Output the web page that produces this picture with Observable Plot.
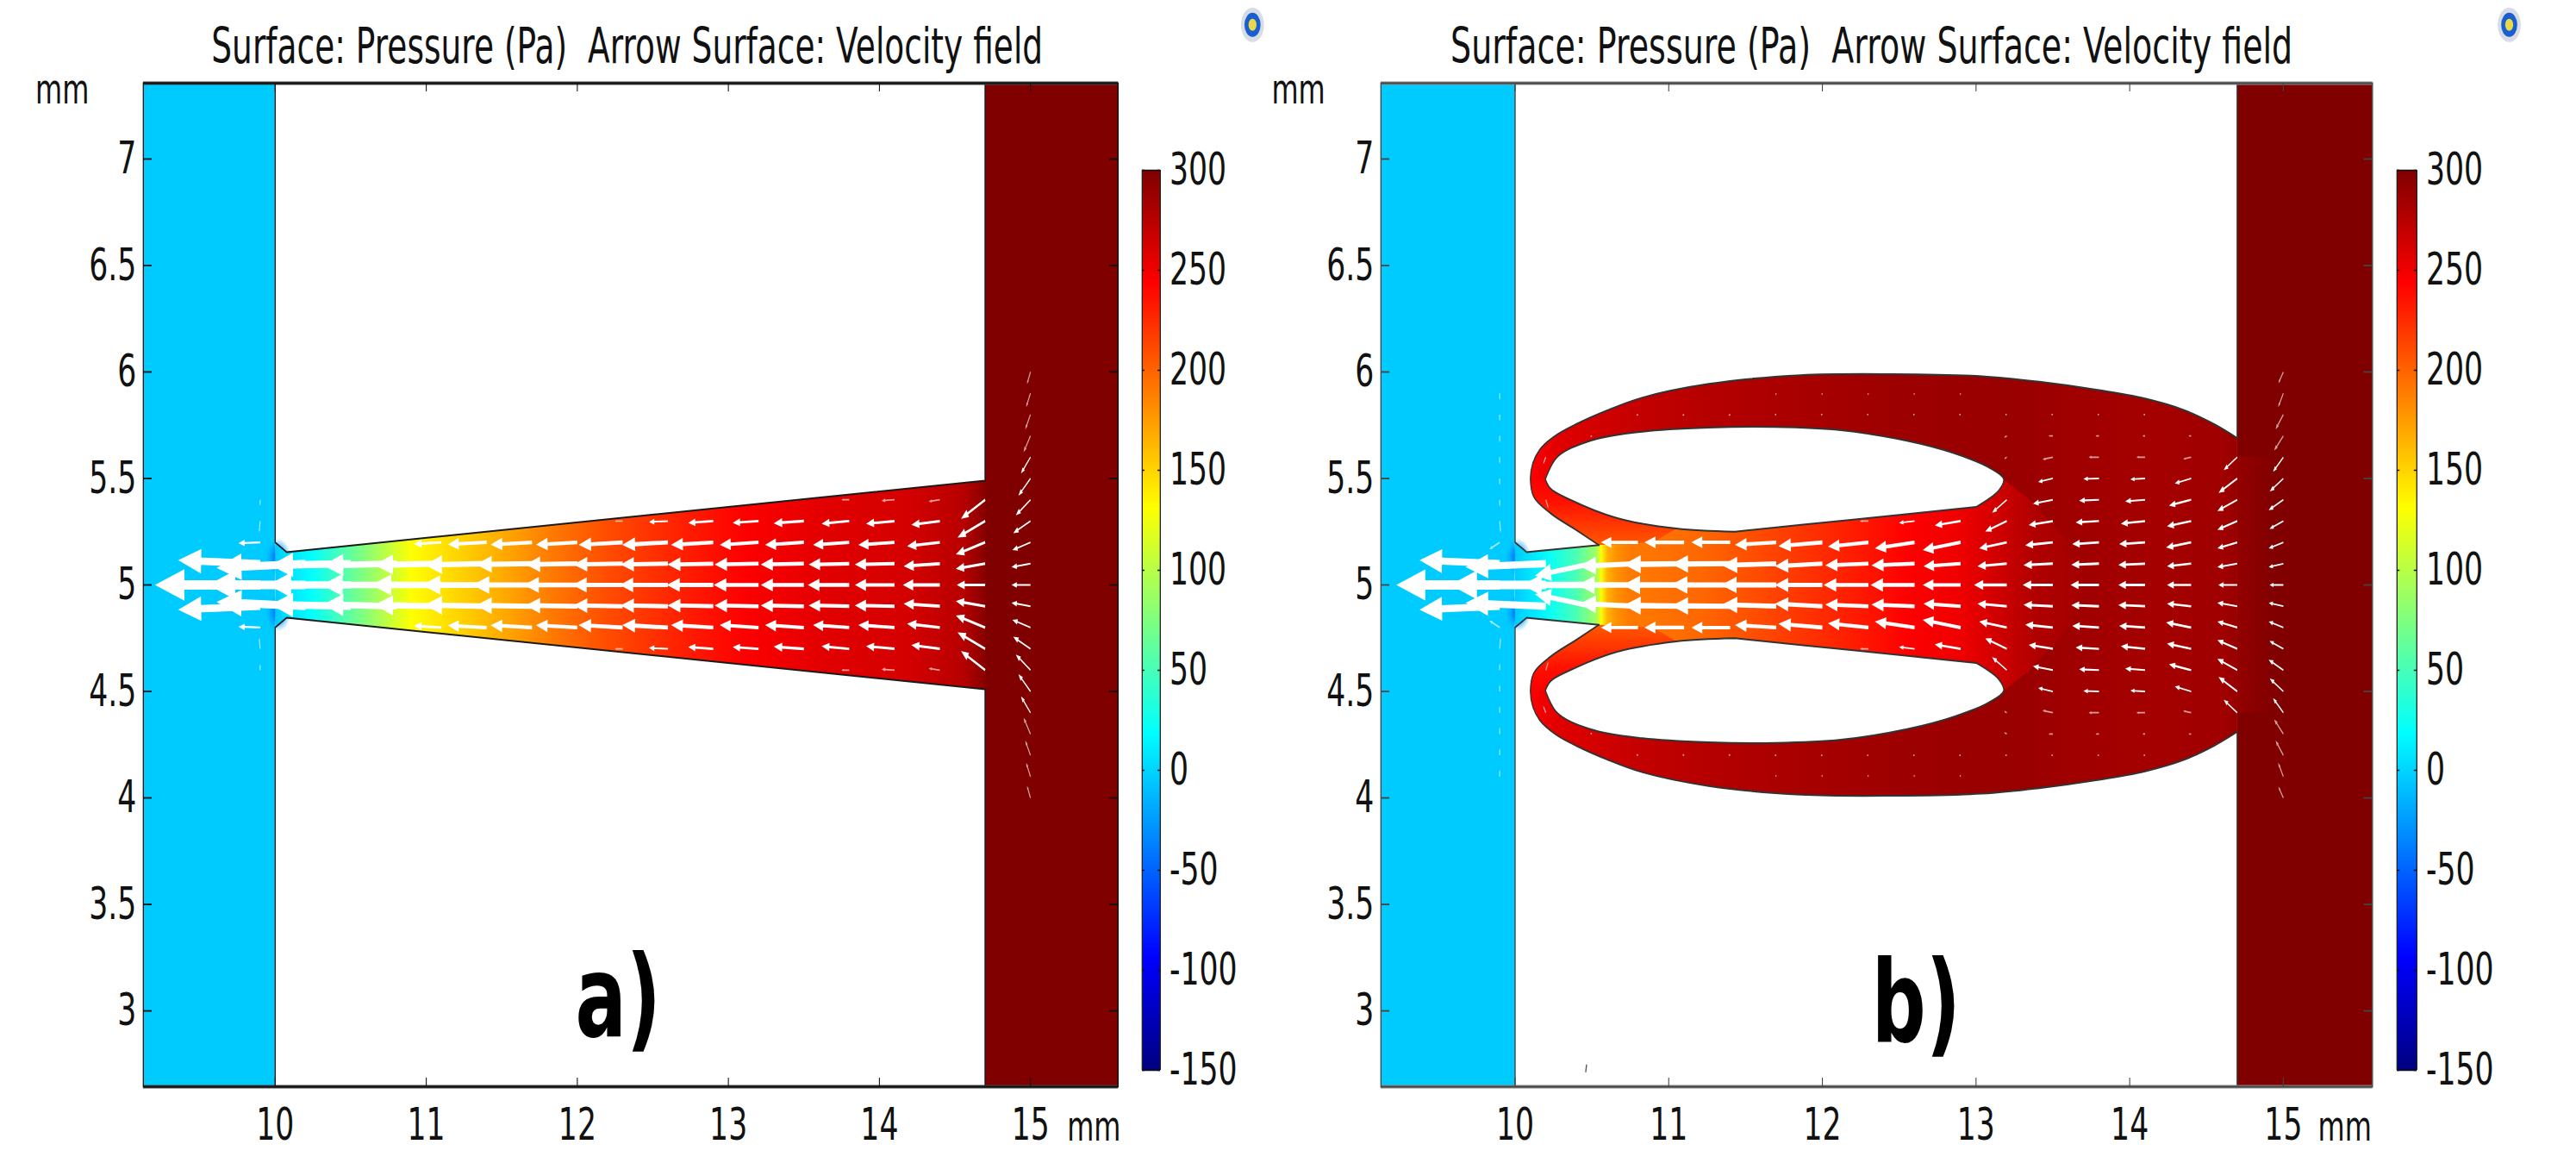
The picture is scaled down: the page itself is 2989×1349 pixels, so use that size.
<!DOCTYPE html>
<html>
<head>
<meta charset="utf-8">
<style>
html,body{margin:0;padding:0;background:#fff;width:2989px;height:1349px;overflow:hidden}
#stage{position:relative;width:2989px;height:1349px}
</style>
<script src="https://cdn.jsdelivr.net/npm/d3@7"></script>
<script src="https://cdn.jsdelivr.net/npm/@observablehq/plot@0.6"></script>
</head>
<body>
<div id="stage"></div>
<script>
// ---------- text and ticks ----------
const titleText = "Surface: Pressure (Pa)  Arrow Surface: Velocity field";
const xTicks = [10, 11, 12, 13, 14, 15];
const yTicks = [3, 3.5, 4, 4.5, 5, 5.5, 6, 6.5, 7];
const barTicks = [-150, -100, -50, 0, 50, 100, 150, 200, 250, 300];
const xDomain = [9.127, 15.58];
const yDomain = [2.644, 7.356];

// ---------- jet colour map of the pressure bar (Pa) ----------
const jetPressure = [-150, -93.75, 18.75, 131.25, 243.75, 300];
const jetColors = ["#000080", "#0000ff", "#00ffff", "#ffff00", "#ff0000", "#800000"];
const reservoirPressure = -4;   // left block
const outletPressure = 300;     // right block

// ---------- pressure along x (x mm, p Pa) ----------
const channelStopsA = [[10,-5],[10.08,5],[10.24,19],[10.58,75],[10.9,131],[11.42,163],[11.83,190],[12.19,210],[12.74,232],[13.1,244],[13.65,257],[14.19,263],[14.55,275],[14.7,296]];
const channelStopsB = [[10,-5],[10.08,5],[10.16,12],[10.24,25],[10.39,50],[10.53,90],[10.56,130],[10.6,165],[10.66,180],[10.75,190],[11.2,198],[11.69,214],[12.33,236],[12.55,244],[12.9,251],[13.2,268],[13.4,279],[13.8,286]];
const lobeStopsB = [[10.1,245],[10.3,258],[10.8,270],[11.3,277],[11.7,281],[12.5,287],[13.2,289],[13.8,285],[14.2,284],[14.6,286],[14.7,290]];
const hornStopsB = [[5.19,205],[5.3,222],[5.4,238],[5.5,246],[5.6,250]];
const outletFadeB = [[14.7,291],[14.95,300]];

// ---------- geometry (x mm, y mm), upper half; lower half is its mirror about y = 5 ----------
const taperUpperA = [[10,5.2],[10.075,5.154],[14.7,5.49]];
const throatUpperB = [[10,5.2],[10.075,5.154],[10.546,5.187]];
const hornOuterB = [[10.546,5.187],[10.40,5.257],[10.23,5.337],[10.12,5.416],[10.10,5.50]];
const outerTopB = [[10.115,5.57],[10.16,5.635],[10.26,5.70],[10.40,5.756],[10.6,5.82],[10.83,5.88],[11.26,5.944],[11.86,5.985],[12.46,5.99],[13.04,5.98],[13.4,5.955],[13.79,5.916],[14.1,5.875],[14.35,5.822],[14.55,5.755],[14.7,5.69]];
const holeTopB = [[10.197,5.496],[10.27,5.597],[10.49,5.677],[10.83,5.72],[11.26,5.739],[11.69,5.742],[12.12,5.727],[12.55,5.677],[12.85,5.62],[13.08,5.553],[13.18,5.496]];
const holeBottomB = [[13.15,5.445],[13.0,5.366],[13.0,5.366],[12.2,5.307],[11.43,5.25],[11.43,5.25],[11.05,5.265],[10.66,5.315],[10.36,5.40],[10.23,5.453],[10.197,5.496]];
const channelUpperB = [[10.55,5.19],[10.66,5.315],[11.05,5.265],[11.43,5.25],[13.0,5.366],[13.15,5.445],[13.19,5.49],[13.35,5.40],[13.6,5.2],[13.7,5.0]];
const hornFillB = [[10.10,5.50],[10.12,5.416],[10.23,5.337],[10.40,5.257],[10.546,5.187],[10.546,5.187],[10.9,5.20],[10.9,5.20],[11.05,5.265],[11.05,5.265],[10.66,5.315],[10.36,5.40],[10.23,5.453],[10.197,5.496]];
const cornerSpot = [[10.02,5.13],[10.02,4.87]];
const speckB = [[10.465,2.745],[10.46,2.715]];

// ---------- velocity field: columns at x, offsets from y = 5 (0, .1, .2 ...) ----------
const arrowX = [15,14.7,14.4,14.1,13.8,13.5,13.2,12.9,12.6,12.3,12,11.7,11.4,11.1,10.8,10.5,10.2,9.9];
const uA = [
 [22,22,21,20,17,14,11,8,6,5,4],
 [33,34,34,32,28],
 [43,42,38,33,13],
 [46,46,42,33,15],
 [48,47,42,32,9],
 [50,50,45,35],
 [52,51,45,30],
 [54,53,49,29],
 [56,55,53,22],
 [58,57,51,9],
 [62,60,48],
 [69,65,48],
 [75,72,45],
 [81,78,32],
 [86,85],
 [96,93],
 [113,103],
 [122,95,25,1,0]
];
const vA = [
 [0,4,9,14,18,20,19,19,17,16,14],
 [0,6,14,19,22],
 [0,3,4.3,4.3,2],
 [0,1,3,3,1],
 [0,1,3,3,0],
 [0,1,3,2.5],
 [0,1,3,2],
 [0,1,3,2],
 [0,1,3,1],
 [0,1,3,0],
 [0,1,2.7],
 [0,1,2.7],
 [0,1.5,2.3],
 [0,1.5,2],
 [0,2],
 [0,2],
 [0,5],
 [0,-4,1,13,7]
];
const uB = [
 [16,17,17,16,17,15.7,12,10.7,9,6,5.7],
 [22,23,23,23,23,21.7,15.7],
 [28,28,29,28,25.7,19,9.3,3],
 [31,31,30,28,23,17,10,3,2],
 [33,32,31,27,23,18,12,4,2],
 [35,34,32,28,23,17,12,5,2],
 [38,34,32,25,17,0,3,3,2],
 [44,43,44,30,0,0,0,0,2,1],
 [51,50,46,18,0,0,0,0,2,1],
 [52,50,47,10,0,0,0,0,2,1],
 [55,55,51,0,0,0,0,0,2,1],
 [64,63,48,0,0,0,0,0,2,1],
 [69,68,45,0,0,0,0,0,2],
 [71,70,46,0,0,0,0,0,2],
 [70,68,43,3,0,0,0,0,2],
 [81,66,0,0,0,0,0,2],
 [111,93,0,0,-3,0,3],
 [120,93,12,-1,0,0,0,0,0,0]
];
const vB = [
 [0,4,7,9,12,15,17,17,17,16,13],
 [0,4,7,10,13,16.7,15],
 [0,3,6,6,6.7,5.7,2.3,0],
 [0,1.5,2,3,1.7,1,0,0,0],
 [0,1.3,2,1.5,1,0.5,0,0,0],
 [0,1.7,3.3,4.7,4.5,4,2.7,0,0],
 [0,3,7,12,15,0,2,2,0],
 [0,3,9,5,0,0,0,0,0,2],
 [0,2,7,2,0,0,0,0,0,2],
 [0,2,5,0,0,0,0,0,0,2],
 [0,3,4.3,0,0,0,0,0,0,2],
 [0,2,3,0,0,0,0,0,0,2],
 [0,0.5,0,0,0,0,0,0,1],
 [0,1,0,0,0,0,0,0,1],
 [0,3,0,-3,0,0,0,0,1],
 [0,14,0,0,0,0,0,1],
 [0,4,0,0,10,0,8],
 [0,-4,8,13,8,8,8,8,8,8]
];
const iconMarks = [{x:16.47, y:7.63, c:"#d8dce4", r:20},{x:16.47, y:7.63, c:"#1a5fd0", r:14},{x:16.47, y:7.63, c:"#e8d84a", r:7}];

// ---------- helpers ----------
const squeeze = 2 / 3;                 // the reference is drawn narrow: text and shapes are 2/3 as wide as tall
const jet = d3.scaleLinear(jetPressure, jetColors).interpolate(d3.interpolateRgb);
const colorOptions = {type: "linear", domain: jetPressure, range: jetColors, interpolate: "rgb"};
const fontFamily = "'DejaVu Sans'";
const textFill = "#111";
const smooth = "catmull-rom";
const mirror = pts => pts.map(([x, y]) => [x, 10 - y]);
const closeUp = (upper) => upper.concat(mirror(upper).reverse());
const px = d => d[0], py = d => d[1];

function gradient(id, stops, vertical) {
  return (index, {x, y}) => {
    const s = vertical ? y : x;
    const a = s(stops[0][0]), b = s(stops[stops.length - 1][0]);
    const defs = d3.create("svg:defs");
    const g = defs.append("linearGradient").attr("id", id).attr("gradientUnits", "userSpaceOnUse")
      .attr("x1", vertical ? 0 : a).attr("x2", vertical ? 0 : b)
      .attr("y1", vertical ? a : 0).attr("y2", vertical ? b : 0);
    for (const [v, p] of stops) g.append("stop").attr("offset", (s(v) - a) / (b - a)).attr("stop-color", jet(p));
    return defs.node();
  };
}
function spotGradient(id) {
  return () => {
    const defs = d3.create("svg:defs");
    const g = defs.append("radialGradient").attr("id", id);
    g.append("stop").attr("offset", 0).attr("stop-color", "#0060f0").attr("stop-opacity", 1);
    g.append("stop").attr("offset", 0.45).attr("stop-color", "#0080ff").attr("stop-opacity", 0.75);
    g.append("stop").attr("offset", 1).attr("stop-color", "#00aaff").attr("stop-opacity", 0);
    return defs.node();
  };
}
const arrowShape = {
  draw(ctx, l) {
    const w = Math.max(0.9, 0.03 * l), hw = 0.1 * l, hl = 0.28 * l;
    ctx.moveTo(-w, 0);
    ctx.lineTo(-w, -l + hl);
    ctx.lineTo(-hw, -l + hl);
    ctx.lineTo(0, -l);
    ctx.lineTo(hw, -l + hl);
    ctx.lineTo(w, -l + hl);
    ctx.lineTo(w, 0);
    ctx.closePath();
  },
  r: 3.5
};
function arrowsFrom(us, vs) {
  const rows = [];
  arrowX.forEach((x, i) => us[i].forEach((u, j) => {
    const v = vs[i][j] || 0;
    if (!u && !v) return;
    const off = j / 10;
    rows.push({x, y: 5 + off, u, v});
    if (j > 0) rows.push({x, y: 5 - off, u, v: -v});
  }));
  return rows;
}
function vectorMark(rows) {
  const lenOf = d => Math.hypot(d.u / squeeze, d.v);
  const rotOf = d => Math.atan2(-d.u / squeeze, -d.v) * 180 / Math.PI;
  const faintOf = d => (lenOf(d) < 24 ? 0.62 : 1);
  return Plot.vector(rows, {x: "x", y: "y", length: lenOf, rotate: rotOf, anchor: "start",
    shape: arrowShape, fill: "white", stroke: "none", fillOpacity: faintOf});
}
function stretch(svg, left, displayWidth) {
  svg.setAttribute("preserveAspectRatio", "none");
  svg.setAttribute("width", displayWidth);
  svg.style.cssText += `;position:absolute;left:${left}px;top:0;width:${displayWidth}px;height:1349px;max-width:none;font-family:${fontFamily};overflow:hidden;background:transparent`;
  document.getElementById("stage").appendChild(svg);
}
function axesAndText(opts) {
  const tickMm = 10 / 247, tickX = 10 / 175;
  return [
    Plot.ruleY([yDomain[0], yDomain[1]], {x1: xDomain[0], x2: xDomain[1], stroke: opts.band, strokeWidth: 4}),
    Plot.frame({stroke: opts.frame, strokeWidth: 2}),
    Plot.ruleX(xTicks, {x: d => d, y1: yDomain[0], y2: yDomain[0] + tickMm, stroke: opts.frame, strokeWidth: 1.6}),
    Plot.ruleX(xTicks, {x: d => d, y1: yDomain[1], y2: yDomain[1] - tickMm, stroke: opts.frame, strokeWidth: 1.6}),
    Plot.ruleY(yTicks, {y: d => d, x1: xDomain[0], x2: xDomain[0] + tickX, stroke: opts.frame, strokeWidth: 1.8}),
    Plot.ruleY(yTicks, {y: d => d, x1: xDomain[1], x2: xDomain[1] - tickX, stroke: opts.frame, strokeWidth: 1.8}),
    Plot.axisX({ticks: xTicks, tickSize: 0, tickPadding: 25, fontSize: 52, label: null, tickFormat: String, fill: textFill, anchor: "bottom"}),
    Plot.axisY({ticks: yTicks, tickSize: 0, tickPadding: 12, fontSize: 52, label: null, tickFormat: String, fill: textFill, anchor: "left"}),
    Plot.text([titleText], {x: opts.titleX, y: 7.453, text: d => d, fontSize: opts.titleSize, lineAnchor: "bottom", fill: textFill, textAnchor: "middle"}),
    Plot.text(["mm"], {x: 8.59, y: 7.26, text: d => d, fontSize: 48, lineAnchor: "bottom", fill: textFill}),
    Plot.text(["mm"], {x: opts.mmX, y: 2.393, text: d => d, fontSize: 48, lineAnchor: "bottom", fill: textFill}),
    Plot.text([opts.tag], {x: opts.tagX, y: opts.tagY, text: d => d, fontSize: 132, fontWeight: "bold", lineAnchor: "bottom", fill: "#000"}),
    Plot.dot(iconMarks, {x: "x", y: "y", r: "r", fill: "c", stroke: "none"})
  ];
}
function panelPlot(left, frameLeft, frameRight, displayWidth, marks) {
  const svg = Plot.plot({
    width: displayWidth / squeeze, height: 1349,
    marginLeft: (frameLeft - left) / squeeze,
    marginRight: (left + displayWidth - frameRight) / squeeze,
    marginTop: 96, marginBottom: 89,
    x: {domain: xDomain, axis: null},
    y: {domain: yDomain, axis: null},
    color: colorOptions,
    r: {type: "identity"},
    length: {type: "identity"},
    marks
  });
  stretch(svg, left, displayWidth);
}
function wallMarks() {
  return [
    Plot.rect([{x1: xDomain[0], x2: 10, p: reservoirPressure}, {x1: 14.7, x2: xDomain[1], p: outletPressure}],
      {x1: "x1", x2: "x2", y1: yDomain[0], y2: yDomain[1], fill: "p"})
  ];
}
function colorBar(left, barLeft, barRight) {
  const displayWidth = 2989 - left < 230 ? 2989 - left : 180;
  const svg = Plot.plot({
    width: displayWidth / squeeze, height: 1349,
    marginLeft: (barLeft - left) / squeeze,
    marginRight: (left + displayWidth - barRight) / squeeze,
    marginTop: 197, marginBottom: 108,
    x: {domain: [0, 1], axis: null},
    y: {domain: [-150, 300], axis: null},
    color: colorOptions,
    marks: [
      Plot.raster({fill: (x, y) => y, x1: 0, x2: 1, y1: -150, y2: 300, width: 2, height: 450, imageRendering: "auto"}),
      Plot.ruleX([0, 1], {x: d => d, stroke: "#222", strokeWidth: 2}),
      Plot.ruleY(barTicks, {y: d => d, x1: 0, x2: 0.14, stroke: "#111", strokeWidth: 1.5}),
      Plot.ruleY(barTicks, {y: d => d, x1: 0.86, x2: 1, stroke: "#111", strokeWidth: 1.5}),
      Plot.ruleY([300, -150], {y: d => d, x1: 0, x2: 1, stroke: "#111", strokeWidth: 1.5}),
      Plot.axisY({ticks: barTicks, anchor: "right", tickSize: 0, tickPadding: 16, fontSize: 52, label: null, tickFormat: String, fill: textFill})
    ]
  });
  stretch(svg, left, displayWidth);
}

// ---------- panel a ----------
const taperA = closeUp(taperUpperA);
const edgeTopA = [[10, yDomain[1]], ...taperUpperA, [14.7, yDomain[1]]];
panelPlot(0, 166, 1297, 1480, [
  gradient("ga", channelStopsA),
  spotGradient("spotA"),
  ...wallMarks(),
  Plot.dot(cornerSpot, {x: px, y: py, r: 22, fill: "url(#spotA)", stroke: "none"}),
  Plot.line(taperA, {x: px, y: py, fill: "url(#ga)", stroke: "none"}),
  Plot.line(edgeTopA, {x: px, y: py, stroke: "#1a1a1a", strokeWidth: 2}),
  Plot.line(mirror(edgeTopA), {x: px, y: py, stroke: "#1a1a1a", strokeWidth: 2}),
  vectorMark(arrowsFrom(uA, vA)),
  ...axesAndText({band: "#444", frame: "#111", titleX: 12.33, titleSize: 56.3, mmX: 15.42, tag: "a)", tagX: 12.27, tagY: 2.879})
]);

// ---------- panel b ----------
const outerUpperRun = [...hornOuterB, ...outerTopB];
const wallCorner = outerTopB[outerTopB.length - 1];
const outerShape = [...outerUpperRun, wallCorner, mirror([wallCorner])[0], ...mirror(outerUpperRun).reverse()];
const holeUpper = [...holeTopB, ...holeBottomB];
const channelShape = [...channelUpperB, ...mirror(channelUpperB).reverse()];
const throatShape = closeUp([...throatUpperB, [10.56, 5.19]]);
const throatEdgeB = [[10, yDomain[1]], ...throatUpperB];
const wallEdgeB = [wallCorner, [14.7, yDomain[1]]];
const strokeB = "#333";
panelPlot(1400, 1602, 2752.5, 1589, [
  gradient("gbChan", channelStopsB),
  gradient("gbLobe", lobeStopsB),
  gradient("gbHornU", hornStopsB, true),
  gradient("gbHornL", hornStopsB.map(([y, p]) => [10 - y, p]), true),
  gradient("gbFade", outletFadeB),
  spotGradient("spotB"),
  ...wallMarks(),
  Plot.rect([{x1: 14.7, x2: 14.95}], {x1: "x1", x2: "x2", y1: 4.4, y2: 5.6, fill: "url(#gbFade)"}),
  Plot.dot(cornerSpot, {x: px, y: py, r: 22, fill: "url(#spotB)", stroke: "none"}),
  Plot.line(outerShape, {x: px, y: py, fill: "url(#gbLobe)", stroke: "none", curve: smooth}),
  Plot.line(channelShape, {x: px, y: py, fill: "url(#gbChan)", stroke: "none"}),
  Plot.line(throatShape, {x: px, y: py, fill: "url(#gbChan)", stroke: "none"}),
  Plot.line(holeUpper, {x: px, y: py, fill: "white", stroke: "none", curve: smooth}),
  Plot.line(mirror(holeUpper), {x: px, y: py, fill: "white", stroke: "none", curve: smooth}),
  Plot.line(hornFillB, {x: px, y: py, fill: "url(#gbHornU)", stroke: "none", curve: smooth}),
  Plot.line(mirror(hornFillB), {x: px, y: py, fill: "url(#gbHornL)", stroke: "none", curve: smooth}),
  Plot.line(holeUpper, {x: px, y: py, stroke: strokeB, strokeWidth: 2, curve: smooth}),
  Plot.line(mirror(holeUpper), {x: px, y: py, stroke: strokeB, strokeWidth: 2, curve: smooth}),
  Plot.line(throatEdgeB, {x: px, y: py, stroke: strokeB, strokeWidth: 2}),
  Plot.line(mirror(throatEdgeB), {x: px, y: py, stroke: strokeB, strokeWidth: 2}),
  Plot.line(outerUpperRun, {x: px, y: py, stroke: strokeB, strokeWidth: 2, curve: smooth}),
  Plot.line(mirror(outerUpperRun), {x: px, y: py, stroke: strokeB, strokeWidth: 2, curve: smooth}),
  Plot.line(wallEdgeB, {x: px, y: py, stroke: strokeB, strokeWidth: 2}),
  Plot.line(mirror(wallEdgeB), {x: px, y: py, stroke: strokeB, strokeWidth: 2}),
  Plot.line(speckB, {x: px, y: py, stroke: "#555", strokeWidth: 2}),
  vectorMark(arrowsFrom(uB, vB)),
  ...axesAndText({band: "#888", frame: "#444", titleX: 12.32, titleSize: 57, mmX: 15.40, tag: "b)", tagX: 12.61, tagY: 2.858})
]);

// ---------- colour bars ----------
colorBar(1300, 1325, 1346);
colorBar(2760, 2781, 2804);
</script>
</body>
</html>
